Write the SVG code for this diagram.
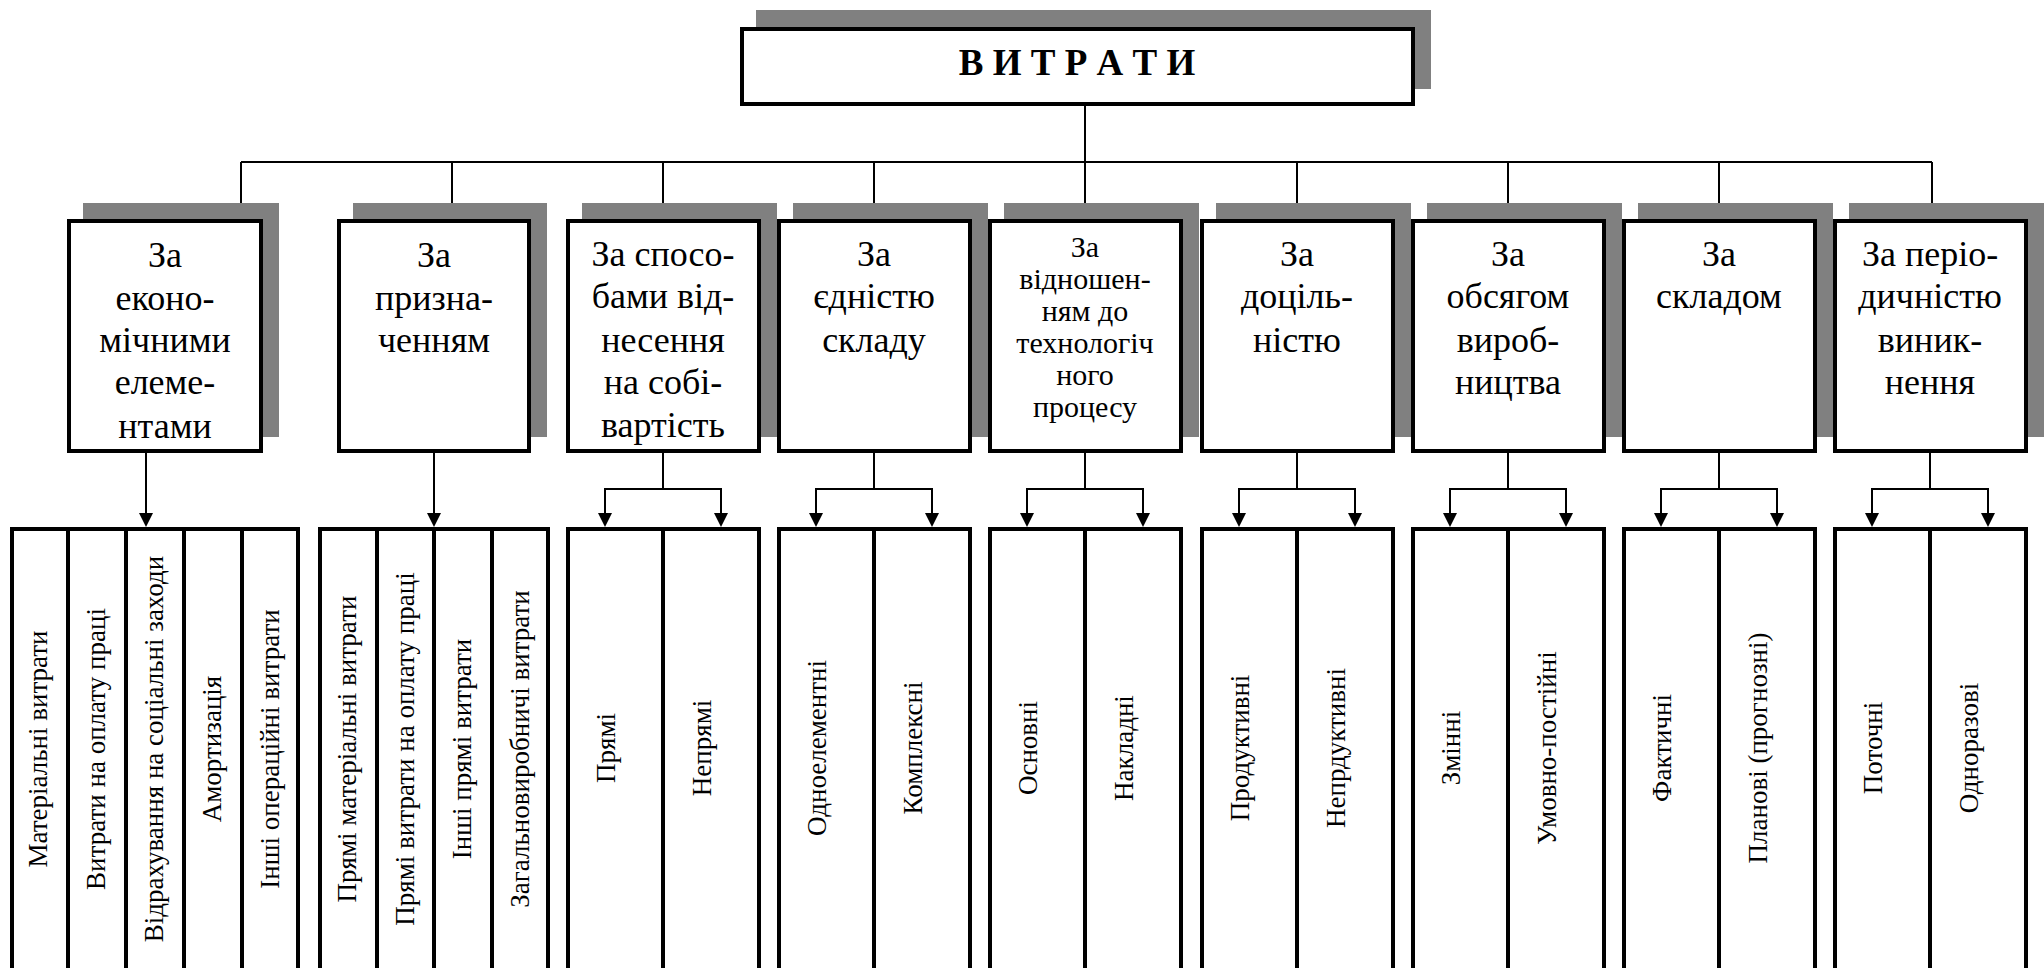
<svg xmlns="http://www.w3.org/2000/svg" width="2044" height="968" viewBox="0 0 2044 968" font-family="'Liberation Serif', 'DejaVu Serif', serif">
<style>
.bg{fill:#fff}
.sh{fill:#808080}
.box{fill:#fff;stroke:#000;stroke-width:4}
.div{stroke:#000;stroke-width:4;fill:none}
.ln{stroke:#000;stroke-width:2;fill:none}
.ah{fill:#000}
text{font-family:'Liberation Serif','DejaVu Serif',serif}
.t{font-size:36px;fill:#000;text-anchor:middle}
.ts{font-size:30px;fill:#000;text-anchor:middle}
.v{font-size:27px;fill:#000;text-anchor:middle;dominant-baseline:central}
.title{font-size:37px;font-weight:bold;fill:#000;text-anchor:middle}
</style>
<defs>
<path id="arr" d="M-7,-14 L7,-14 L0,0 Z"/>
</defs>
<rect class="bg" x="0" y="0" width="2044" height="968"/>

<g id="root">
<rect class="sh" x="756" y="10" width="675" height="79"/>
<rect class="box" x="742" y="29" width="671" height="75"/>
<text class="title" x="1077" y="75">В И Т Р А Т И</text>
</g>

<g id="connectors">
<line class="ln" x1="1085" y1="106" x2="1085" y2="162"/>
<line class="ln" x1="241" y1="162" x2="1932" y2="162"/>
<path class="ln" d="M241,162V206M452,162V206M663,162V206M874,162V206M1085,162V206M1297,162V206M1508,162V206M1719,162V206M1932,162V206"/>
<use href="#arr" class="ah" x="241" y="219"/>
<use href="#arr" class="ah" x="452" y="219"/>
<use href="#arr" class="ah" x="663" y="219"/>
<use href="#arr" class="ah" x="874" y="219"/>
<use href="#arr" class="ah" x="1085" y="219"/>
<use href="#arr" class="ah" x="1297" y="219"/>
<use href="#arr" class="ah" x="1508" y="219"/>
<use href="#arr" class="ah" x="1719" y="219"/>
<use href="#arr" class="ah" x="1932" y="219"/>
<path class="ln" d="M146,453V514M434,453V514"/>
<use href="#arr" class="ah" x="146" y="527"/>
<use href="#arr" class="ah" x="434" y="527"/>
<path class="ln" d="M663,453V489M605,514V489H721V514M874,453V489M816,514V489H932V514M1085,453V489M1027,514V489H1143V514M1297,453V489M1239,514V489H1355V514M1508,453V489M1450,514V489H1566V514M1719,453V489M1661,514V489H1777V514M1930,453V489M1872,514V489H1988V514"/>
<use href="#arr" class="ah" x="605" y="527"/><use href="#arr" class="ah" x="721" y="527"/>
<use href="#arr" class="ah" x="816" y="527"/><use href="#arr" class="ah" x="932" y="527"/>
<use href="#arr" class="ah" x="1027" y="527"/><use href="#arr" class="ah" x="1143" y="527"/>
<use href="#arr" class="ah" x="1239" y="527"/><use href="#arr" class="ah" x="1355" y="527"/>
<use href="#arr" class="ah" x="1450" y="527"/><use href="#arr" class="ah" x="1566" y="527"/>
<use href="#arr" class="ah" x="1661" y="527"/><use href="#arr" class="ah" x="1777" y="527"/>
<use href="#arr" class="ah" x="1872" y="527"/><use href="#arr" class="ah" x="1988" y="527"/>
</g>

<g id="c1">
<rect class="sh" x="83" y="203" width="196" height="234"/>
<rect class="box" x="69" y="221" width="192" height="230"/>
<text class="t" x="165" y="267">За<tspan x="165" y="310">еконо-</tspan><tspan x="165" y="352">мічними</tspan><tspan x="165" y="394">елеме-</tspan><tspan x="165" y="438">нтами</tspan></text>
</g>
<g id="c2">
<rect class="sh" x="353" y="203" width="194" height="234"/>
<rect class="box" x="339" y="221" width="190" height="230"/>
<text class="t" x="434" y="267">За<tspan x="434" y="310">призна-</tspan><tspan x="434" y="352">ченням</tspan></text>
</g>
<g id="c3">
<rect class="sh" x="582" y="203" width="195" height="234"/>
<rect class="box" x="568" y="221" width="191" height="230"/>
<text class="t" x="663" y="266">За спосо-<tspan x="663" y="308">бами від-</tspan><tspan x="663" y="352">несення</tspan><tspan x="663" y="394">на собі-</tspan><tspan x="663" y="437">вартість</tspan></text>
</g>
<g id="c4">
<rect class="sh" x="793" y="203" width="195" height="234"/>
<rect class="box" x="779" y="221" width="191" height="230"/>
<text class="t" x="874" y="266">За<tspan x="874" y="308">єдністю</tspan><tspan x="874" y="352">складу</tspan></text>
</g>
<g id="c5">
<rect class="sh" x="1004" y="203" width="195" height="234"/>
<rect class="box" x="990" y="221" width="191" height="230"/>
<text class="ts" x="1085" y="257">За<tspan x="1085" y="289">відношен-</tspan><tspan x="1085" y="321">ням до</tspan><tspan x="1085" y="353">технологіч</tspan><tspan x="1085" y="385">ного</tspan><tspan x="1085" y="417">процесу</tspan></text>
</g>
<g id="c6">
<rect class="sh" x="1216" y="203" width="195" height="234"/>
<rect class="box" x="1202" y="221" width="191" height="230"/>
<text class="t" x="1297" y="266">За<tspan x="1297" y="308">доціль-</tspan><tspan x="1297" y="352">ністю</tspan></text>
</g>
<g id="c7">
<rect class="sh" x="1427" y="203" width="195" height="234"/>
<rect class="box" x="1413" y="221" width="191" height="230"/>
<text class="t" x="1508" y="266">За<tspan x="1508" y="308">обсягом</tspan><tspan x="1508" y="352">вироб-</tspan><tspan x="1508" y="394">ництва</tspan></text>
</g>
<g id="c8">
<rect class="sh" x="1638" y="203" width="195" height="234"/>
<rect class="box" x="1624" y="221" width="191" height="230"/>
<text class="t" x="1719" y="266">За<tspan x="1719" y="308">складом</tspan></text>
</g>
<g id="c9">
<rect class="sh" x="1849" y="203" width="195" height="234"/>
<rect class="box" x="1835" y="221" width="191" height="230"/>
<text class="t" x="1930" y="266">За періо-<tspan x="1930" y="308">дичністю</tspan><tspan x="1930" y="352">виник-</tspan><tspan x="1930" y="394">нення</tspan></text>
</g>

<g id="g1">
<rect class="box" x="12" y="529" width="286" height="460"/>
<path class="div" d="M68,529V990M126,529V990M184,529V990M242,529V990"/>
<text class="v" transform="translate(38,749) rotate(-90)">Матеріальні витрати</text>
<text class="v" transform="translate(96,749) rotate(-90)">Витрати на оплату праці</text>
<text class="v" transform="translate(154,749) rotate(-90)">Відрахування на соціальні заходи</text>
<text class="v" transform="translate(212,749) rotate(-90)">Амортизація</text>
<text class="v" transform="translate(270,749) rotate(-90)">Інші операційні витрати</text>
</g>
<g id="g2">
<rect class="box" x="320" y="529" width="228" height="460"/>
<path class="div" d="M377,529V990M434,529V990M492,529V990"/>
<text class="v" transform="translate(347,749) rotate(-90)">Прямі матеріальні витрати</text>
<text class="v" transform="translate(405,749) rotate(-90)">Прямі витрати на оплату праці</text>
<text class="v" transform="translate(462,749) rotate(-90)">Інші прямі витрати</text>
<text class="v" transform="translate(520,749) rotate(-90)">Загальновиробничі витрати</text>
</g>
<g id="g3">
<rect class="box" x="568" y="529" width="191" height="460"/>
<path class="div" d="M663,529V990"/>
<text class="v" transform="translate(606,748) rotate(-90)">Прямі</text>
<text class="v" transform="translate(702,748) rotate(-90)">Непрямі</text>
</g>
<g id="g4">
<rect class="box" x="779" y="529" width="191" height="460"/>
<path class="div" d="M874,529V990"/>
<text class="v" transform="translate(817,748) rotate(-90)">Одноелементні</text>
<text class="v" transform="translate(913,748) rotate(-90)">Комплексні</text>
</g>
<g id="g5">
<rect class="box" x="990" y="529" width="191" height="460"/>
<path class="div" d="M1085,529V990"/>
<text class="v" transform="translate(1028,748) rotate(-90)">Основні</text>
<text class="v" transform="translate(1124,748) rotate(-90)">Накладні</text>
</g>
<g id="g6">
<rect class="box" x="1202" y="529" width="191" height="460"/>
<path class="div" d="M1297,529V990"/>
<text class="v" transform="translate(1240,748) rotate(-90)">Продуктивні</text>
<text class="v" transform="translate(1336,748) rotate(-90)">Непрдуктивні</text>
</g>
<g id="g7">
<rect class="box" x="1413" y="529" width="191" height="460"/>
<path class="div" d="M1508,529V990"/>
<text class="v" transform="translate(1451,748) rotate(-90)">Змінні</text>
<text class="v" transform="translate(1547,748) rotate(-90)">Умовно-постійні</text>
</g>
<g id="g8">
<rect class="box" x="1624" y="529" width="191" height="460"/>
<path class="div" d="M1719,529V990"/>
<text class="v" transform="translate(1662,748) rotate(-90)">Фактичні</text>
<text class="v" transform="translate(1758,748) rotate(-90)">Планові (прогнозні)</text>
</g>
<g id="g9">
<rect class="box" x="1835" y="529" width="191" height="460"/>
<path class="div" d="M1930,529V990"/>
<text class="v" transform="translate(1873,748) rotate(-90)">Поточні</text>
<text class="v" transform="translate(1969,748) rotate(-90)">Одноразові</text>
</g>
</svg>
